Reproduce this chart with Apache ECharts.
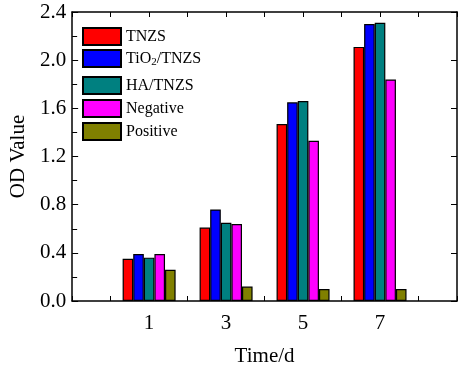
<!DOCTYPE html>
<html lang="en">
<head>
    <meta charset="UTF-8">
    <title>OD Value</title>
    <script src="https://cdn.jsdelivr.net/npm/echarts@6.0.0/dist/echarts.min.js"></script>
    <style>
        body { margin: 0; background: #fff; }
        #chart { width: 460px; height: 372px; }
    </style>
</head>
<body>
    <div id="chart"></div>
    <script>
        // time points (days)
        const days = [1, 3, 5, 7];
        const seriesNames = ['TNZS', 'TiO2/TNZS', 'HA/TNZS', 'Negative', 'Positive'];
        const colors = ['#ff0000', '#0000ff', '#008080', '#ff00ff', '#808000'];

        // OD values
        const tnzs     = [0.35, 0.61, 1.47, 2.11];
        const tio2Tnzs = [0.39, 0.76, 1.65, 2.30];
        const haTnzs   = [0.36, 0.65, 1.66, 2.31];
        const negative = [0.39, 0.64, 1.33, 1.84];
        const positive = [0.26, 0.12, 0.10, 0.10];
        const allValues = [tnzs, tio2Tnzs, haTnzs, negative, positive];

        const yTicks = [0, 0.4, 0.8, 1.2, 1.6, 2.0, 2.4];

        const font = '"Liberation Serif", "Times New Roman", serif';
        const chart = echarts.init(document.getElementById('chart'));

        const series = seriesNames.map((name, i) => ({
            name: name,
            type: 'bar',
            barWidth: 10.6,
            barGap: '0%',
            itemStyle: { color: colors[i], borderColor: '#000', borderWidth: 1.2 },
            data: days.map((d, j) => [d, allValues[i][j]])
        }));

        const legendText = {
            fontFamily: font, fontSize: 16, color: '#000',
            rich: {
                n: { fontFamily: font, fontSize: 16, color: '#000' },
                sub: { fontFamily: font, fontSize: 11, color: '#000', verticalAlign: 'bottom', padding: [8, 0, 0, 0] }
            }
        };
        const fmtLegend = name => name === 'TiO2/TNZS' ? '{n|TiO}{sub|2}{n|/TNZS}' : name;

        chart.setOption({
            animation: false,
            grid: { left: 65, top: 12, width: 397, height: 293 },
            legend: [
                {
                    data: seriesNames.slice(0, 2), orient: 'vertical', left: 82, top: 27,
                    padding: 0, itemGap: 3, itemWidth: 38, itemHeight: 17, icon: 'rect',
                    textStyle: legendText, formatter: fmtLegend
                },
                {
                    data: seriesNames.slice(2), orient: 'vertical', left: 82, top: 76,
                    padding: 0, itemGap: 4, itemWidth: 38, itemHeight: 17, icon: 'rect',
                    textStyle: legendText
                }
            ],
            xAxis: [
                {
                    type: 'value', min: -1, max: 9, interval: 1,
                    name: 'Time/d', nameLocation: 'middle', nameGap: 45,
                    nameTextStyle: { fontFamily: font, fontSize: 21, color: '#000' },
                    axisLine: { onZero: false, lineStyle: { color: '#000', width: 1.5 } },
                    axisTick: { inside: true, length: 5, lineStyle: { color: '#000' } },
                    axisLabel: {
                        fontFamily: font, fontSize: 21, color: '#000', margin: 12,
                        formatter: v => days.includes(v) ? String(v) : ''
                    },
                    splitLine: { show: false }
                },
                {
                    type: 'value', min: -1, max: 9, interval: 1, position: 'top',
                    axisLine: { onZero: false, lineStyle: { color: '#000', width: 1.5 } },
                    axisTick: { inside: true, length: 5, lineStyle: { color: '#000' } },
                    axisLabel: { show: false },
                    splitLine: { show: false }
                }
            ],
            yAxis: [
                {
                    type: 'value', min: yTicks[0], max: yTicks[yTicks.length - 1], interval: 0.4,
                    name: 'OD Value', nameLocation: 'middle', nameGap: 42,
                    nameTextStyle: { fontFamily: font, fontSize: 21, color: '#000' },
                    axisLine: { show: true, onZero: false, lineStyle: { color: '#000', width: 1.5 } },
                    axisTick: { inside: true, length: 6, lineStyle: { color: '#000' } },
                    minorTick: { show: true, splitNumber: 2, length: 5, lineStyle: { color: '#000' } },
                    axisLabel: {
                        fontFamily: font, fontSize: 21, color: '#000', margin: 6,
                        formatter: v => v.toFixed(1)
                    },
                    splitLine: { show: false }
                },
                {
                    type: 'value', min: 0, max: 2.4, interval: 0.4, position: 'right',
                    axisLine: { show: true, onZero: false, lineStyle: { color: '#000', width: 1.5 } },
                    axisTick: { inside: true, length: 6, lineStyle: { color: '#000' } },
                    axisLabel: { show: false },
                    splitLine: { show: false }
                }
            ],
            series: series
        });
    </script>
</body>
</html>
